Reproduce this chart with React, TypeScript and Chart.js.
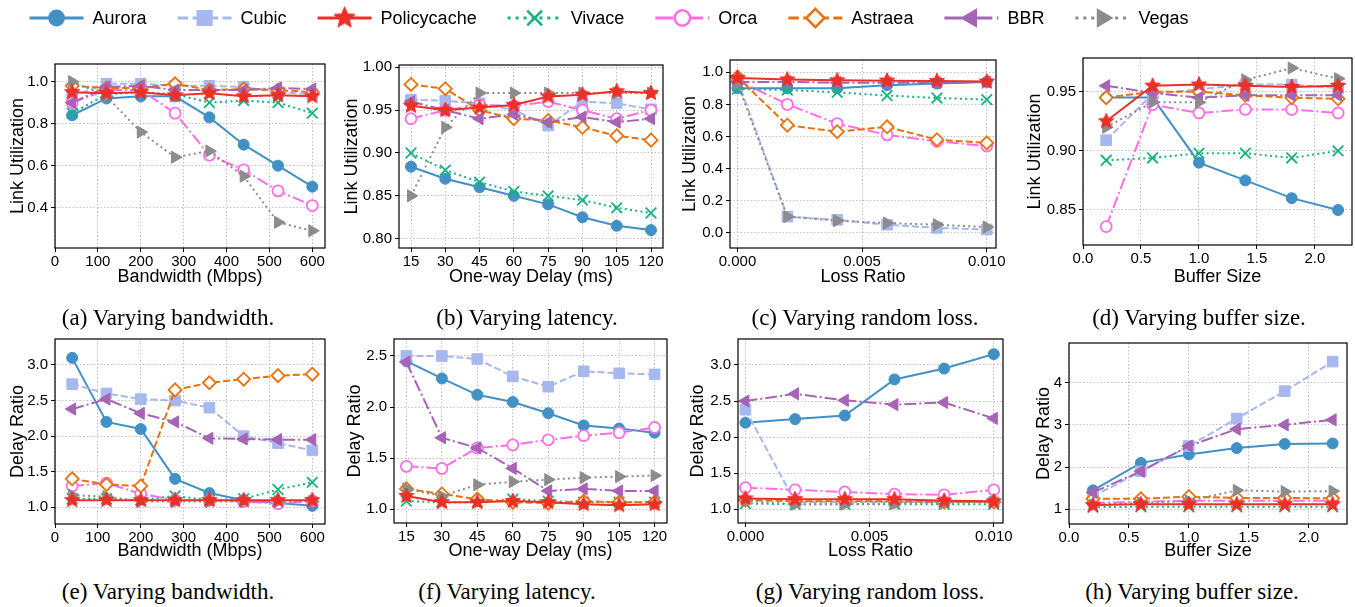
import React, { useEffect, useRef } from "react";
import { Chart, registerables } from "chart.js";
Chart.register(...registerables);

const SANS = "'Liberation Sans', Arial, sans-serif";
const SERIF = "'Liberation Serif', 'Times New Roman', serif";
Chart.defaults.font.family = SANS;
Chart.defaults.color = "#000";

// ---------------- data ----------------
const SERIES = ["Aurora", "Cubic", "Policycache", "Vivace", "Orca", "Astraea", "BBR", "Vegas"];

const bandwidthX = [40, 120, 200, 280, 360, 440, 520, 600];
const delayX = [15, 30, 45, 60, 75, 90, 105, 120];
const lossX = [0, 0.002, 0.004, 0.006, 0.008, 0.01];
const bufferX = [0.2, 0.6, 1.0, 1.4, 1.8, 2.2];

// rows: Aurora, Cubic, Policycache, Vivace, Orca, Astraea, BBR, Vegas
const utilBandwidth = [
  [0.84, 0.92, 0.93, 0.93, 0.83, 0.7, 0.6, 0.5],
  [0.93, 0.99, 0.99, 0.98, 0.98, 0.975, 0.95, 0.94],
  [0.95, 0.945, 0.95, 0.935, 0.945, 0.93, 0.935, 0.93],
  [0.85, 0.94, 0.95, 0.94, 0.9, 0.91, 0.9, 0.85],
  [0.9, 0.96, 0.96, 0.85, 0.65, 0.58, 0.48, 0.41],
  [0.98, 0.97, 0.97, 0.99, 0.96, 0.965, 0.96, 0.95],
  [0.9, 0.975, 0.98, 0.96, 0.96, 0.96, 0.97, 0.965],
  [1.0, 0.93, 0.76, 0.64, 0.67, 0.55, 0.33, 0.29],
];
const utilDelay = [
  [0.884, 0.87, 0.86, 0.85, 0.84, 0.825, 0.815, 0.81],
  [0.962, 0.961, 0.958, 0.95, 0.932, 0.96, 0.958, 0.951],
  [0.955, 0.95, 0.953, 0.956, 0.966, 0.968, 0.972, 0.97],
  [0.9, 0.88, 0.866, 0.855, 0.85, 0.845, 0.836, 0.83],
  [0.94, 0.95, 0.956, 0.955, 0.96, 0.95, 0.94, 0.95],
  [0.98, 0.975, 0.95, 0.94, 0.938, 0.93, 0.92, 0.915],
  [0.96, 0.95, 0.94, 0.945, 0.936, 0.942, 0.936, 0.94],
  [0.85, 0.93, 0.97, 0.97, 0.97, 0.97, 0.97, 0.97],
];
const utilLoss = [
  [0.9, 0.9, 0.9, 0.92, 0.93, 0.94],
  [0.95, 0.1, 0.08, 0.05, 0.03, 0.02],
  [0.965, 0.955, 0.95, 0.948, 0.945, 0.942],
  [0.895, 0.89, 0.875, 0.855, 0.84, 0.83],
  [0.95, 0.8, 0.68, 0.61, 0.57, 0.54],
  [0.97, 0.67, 0.63, 0.66, 0.58, 0.56],
  [0.94, 0.94, 0.935, 0.935, 0.935, 0.94],
  [0.93, 0.1, 0.075, 0.06, 0.05, 0.035],
];
const utilBuffer = [
  [0.945, 0.945, 0.89, 0.875, 0.86, 0.85],
  [0.909, 0.948, 0.952, 0.956, 0.956, 0.953],
  [0.925, 0.955, 0.956, 0.955, 0.954, 0.955],
  [0.892, 0.894, 0.898, 0.898, 0.894, 0.9],
  [0.836, 0.939, 0.932, 0.935, 0.935, 0.932],
  [0.945, 0.95, 0.95, 0.947, 0.945, 0.944],
  [0.955, 0.949, 0.945, 0.947, 0.947, 0.947],
  [0.92, 0.941, 0.941, 0.96, 0.97, 0.961],
];
const delayBandwidth = [
  [3.1, 2.2, 2.1, 1.4, 1.2, 1.1, 1.06, 1.02],
  [2.73, 2.6, 2.52, 2.5, 2.4, 2.0, 1.9, 1.8],
  [1.1, 1.1, 1.1, 1.1, 1.1, 1.1, 1.1, 1.1],
  [1.12, 1.12, 1.1, 1.16, 1.1, 1.12, 1.25, 1.35],
  [1.3, 1.34, 1.19, 1.1, 1.1, 1.08, 1.05, 1.09],
  [1.4, 1.32, 1.3, 2.65, 2.75, 2.8, 2.85, 2.87],
  [2.38, 2.52, 2.32, 2.2, 1.97, 1.96, 1.95, 1.95],
  [1.17, 1.15, 1.08, 1.08, 1.08, 1.08, 1.08, 1.08],
];
const delayDelay = [
  [2.45, 2.28, 2.12, 2.05, 1.94, 1.82, 1.79, 1.75],
  [2.5, 2.5, 2.47, 2.3, 2.2, 2.35, 2.33, 2.32],
  [1.13, 1.07, 1.07, 1.08, 1.07, 1.05, 1.04, 1.05],
  [1.08, 1.07, 1.07, 1.1, 1.08, 1.07, 1.07, 1.07],
  [1.42, 1.4, 1.6, 1.63, 1.68, 1.72, 1.75, 1.8],
  [1.2, 1.15, 1.1, 1.07, 1.06, 1.08, 1.07, 1.07],
  [2.44, 1.7, 1.6, 1.4, 1.18, 1.2, 1.18, 1.18],
  [1.2, 1.13, 1.24, 1.27, 1.29, 1.31, 1.32, 1.33],
];
const delayLoss = [
  [2.2, 2.25, 2.3, 2.8, 2.95, 3.15],
  [2.38, 1.1, 1.1, 1.1, 1.1, 1.1],
  [1.15, 1.14, 1.14, 1.14, 1.12, 1.11],
  [1.08, 1.07, 1.07, 1.07, 1.07, 1.07],
  [1.3, 1.27, 1.24, 1.21, 1.2, 1.27],
  [1.13, 1.11, 1.11, 1.11, 1.1, 1.1],
  [2.5, 2.6, 2.51, 2.45, 2.48, 2.26],
  [1.12, 1.07, 1.07, 1.08, 1.09, 1.1],
];
const delayBuffer = [
  [1.45, 2.1, 2.3, 2.45, 2.55, 2.56],
  [1.3, 1.9, 2.5, 3.15, 3.8, 4.5],
  [1.1, 1.12, 1.12, 1.12, 1.12, 1.12],
  [1.05, 1.06, 1.06, 1.06, 1.06, 1.06],
  [1.15, 1.18, 1.2, 1.2, 1.2, 1.2],
  [1.25, 1.25, 1.3, 1.27, 1.27, 1.26],
  [1.4, 1.9, 2.5, 2.9, 3.0, 3.12],
  [1.1, 1.15, 1.2, 1.45, 1.42, 1.43],
];

// tick values / labels
const bwTicks = [0, 100, 200, 300, 400, 500, 600];
const bwLabels = ["0", "100", "200", "300", "400", "500", "600"];
const delayTicks = [15, 30, 45, 60, 75, 90, 105, 120];
const delayLabels = ["15", "30", "45", "60", "75", "90", "105", "120"];
const lossTicks = [0, 0.005, 0.01];
const lossLabels = ["0.000", "0.005", "0.010"];
const bufTicks = [0, 0.5, 1.0, 1.5, 2.0];
const bufLabels = ["0.0", "0.5", "1.0", "1.5", "2.0"];

const yTicksA = [0.4, 0.6, 0.8, 1.0];
const yLabelsA = ["0.4", "0.6", "0.8", "1.0"];
const yTicksB = [0.8, 0.85, 0.9, 0.95, 1.0];
const yLabelsB = ["0.80", "0.85", "0.90", "0.95", "1.00"];
const yTicksC = [0, 0.2, 0.4, 0.6, 0.8, 1.0];
const yLabelsC = ["0.0", "0.2", "0.4", "0.6", "0.8", "1.0"];
const yTicksD = [0.85, 0.9, 0.95];
const yLabelsD = ["0.85", "0.90", "0.95"];
const yTicksE = [1.0, 1.5, 2.0, 2.5, 3.0];
const yLabelsE = ["1.0", "1.5", "2.0", "2.5", "3.0"];
const yTicksF = [1.0, 1.5, 2.0, 2.5];
const yLabelsF = ["1.0", "1.5", "2.0", "2.5"];
const yTicksH = [1, 2, 3, 4];
const yLabelsH = ["1", "2", "3", "4"];

// ---------------- styles ----------------
type Style = { color: string; dash: number[]; marker: string; hollow?: boolean; radius: number; rotation?: number };
const STYLES: Style[] = [
  { color: "#4190c6", dash: [], marker: "circle", radius: 5.5 },
  { color: "#a6b8ee", dash: [7, 3], marker: "rect", radius: 7.5 },
  { color: "#ec2f27", dash: [], marker: "star", radius: 8 },
  { color: "#16b27f", dash: [2, 3.3], marker: "crossRot", radius: 7.5 },
  { color: "#ff6ee8", dash: [12, 3, 2, 3], marker: "circle", hollow: true, radius: 5.5 },
  { color: "#e8730d", dash: [7, 3], marker: "rectRot", hollow: true, radius: 6.5 },
  { color: "#a763b6", dash: [12, 3, 2, 3], marker: "triangle", radius: 7, rotation: -90 },
  { color: "#8c8c8c", dash: [2, 3.3], marker: "triangle", radius: 7, rotation: 90 },
];

function makeStar(color: string, r: number): HTMLCanvasElement {
  const size = Math.ceil(2 * r + 4);
  const c = document.createElement("canvas");
  c.width = size;
  c.height = size;
  const ctx = c.getContext("2d")!;
  ctx.translate(size / 2, size / 2);
  ctx.beginPath();
  const inner = r * 0.45;
  for (let i = 0; i < 10; i++) {
    const rr = i % 2 === 0 ? r : inner;
    const a = -Math.PI / 2 + (i * Math.PI) / 5;
    const x = rr * Math.cos(a);
    const y = rr * Math.sin(a);
    if (i === 0) ctx.moveTo(x, y);
    else ctx.lineTo(x, y);
  }
  ctx.closePath();
  ctx.fillStyle = color;
  ctx.fill();
  ctx.lineWidth = 1;
  ctx.strokeStyle = color;
  ctx.stroke();
  return c;
}

function drawMarker(ctx: CanvasRenderingContext2D, st: Style, x: number, y: number, k: number) {
  const r = st.radius * k;
  ctx.save();
  ctx.translate(x, y);
  ctx.setLineDash([]);
  if (st.marker === "star") {
    const img = makeStar(st.color, r);
    ctx.drawImage(img, -img.width / 2, -img.height / 2);
    ctx.restore();
    return;
  }
  ctx.rotate(((st.rotation || 0) * Math.PI) / 180);
  ctx.lineWidth = (st.hollow || st.marker === "crossRot" ? 1.8 : 1) * k;
  ctx.strokeStyle = st.color;
  ctx.fillStyle = st.hollow ? "#ffffff" : st.color;
  ctx.beginPath();
  if (st.marker === "circle") ctx.arc(0, 0, r, 0, Math.PI * 2);
  else if (st.marker === "rect") {
    const h = r * Math.SQRT1_2;
    ctx.rect(-h, -h, 2 * h, 2 * h);
  } else if (st.marker === "rectRot") {
    ctx.moveTo(0, -r);
    ctx.lineTo(r, 0);
    ctx.lineTo(0, r);
    ctx.lineTo(-r, 0);
    ctx.closePath();
  } else if (st.marker === "triangle") {
    for (let i = 0; i < 3; i++) {
      const a = (i * 2 * Math.PI) / 3;
      const px = Math.sin(a) * r;
      const py = -Math.cos(a) * r;
      if (i === 0) ctx.moveTo(px, py);
      else ctx.lineTo(px, py);
    }
    ctx.closePath();
  } else if (st.marker === "crossRot") {
    const h = r * Math.SQRT1_2;
    ctx.moveTo(-h, -h);
    ctx.lineTo(h, h);
    ctx.moveTo(h, -h);
    ctx.lineTo(-h, h);
    ctx.stroke();
    ctx.restore();
    return;
  }
  ctx.fill();
  ctx.stroke();
  ctx.restore();
}

// ---------------- panels ----------------
type PanelSpec = {
  id: string;
  xs: number[];
  ys: number[][];
  xMin: number; xMax: number; yMin: number; yMax: number;
  xTicks: number[]; xLabels: string[];
  yTicks: number[]; yLabels: string[];
  xTitle: string; yTitle: string;
  L: number; R: number; T: number; B: number;
  yW: number; xH: number;
  caption: string; capX: number; capY: number;
};

const PANELS: PanelSpec[] = [
  { id: "a", xs: bandwidthX, ys: utilBandwidth, xMin: 0, xMax: 629.6, yMin: 0.208, yMax: 1.084,
    xTicks: bwTicks, xLabels: bwLabels, yTicks: yTicksA, yLabels: yLabelsA,
    xTitle: "Bandwidth (Mbps)", yTitle: "Link Utilization",
    L: 55, R: 325, T: 64, B: 248, yW: 48, xH: 40, caption: "(a) Varying bandwidth.", capX: 168, capY: 318 },
  { id: "b", xs: delayX, ys: utilDelay, xMin: 9.75, xMax: 125.25, yMin: 0.7891, yMax: 1.0027,
    xTicks: delayTicks, xLabels: delayLabels, yTicks: yTicksB, yLabels: yLabelsB,
    xTitle: "One-way Delay (ms)", yTitle: "Link Utilization",
    L: 399, R: 663, T: 65, B: 248, yW: 58, xH: 40, caption: "(b) Varying latency.", capX: 527, capY: 318 },
  { id: "c", xs: lossX, ys: utilLoss, xMin: -0.0003, xMax: 0.01037, yMin: -0.0954, yMax: 1.0767,
    xTicks: lossTicks, xLabels: lossLabels, yTicks: yTicksC, yLabels: yLabelsC,
    xTitle: "Loss Ratio", yTitle: "Link Utilization",
    L: 730, R: 996, T: 60, B: 248, yW: 51, xH: 40, caption: "(c) Varying random loss.", capX: 865, capY: 318 },
  { id: "d", xs: bufferX, ys: utilBuffer, xMin: 0, xMax: 2.32, yMin: 0.8204, yMax: 0.9785,
    xTicks: bufTicks, xLabels: bufLabels, yTicks: yTicksD, yLabels: yLabelsD,
    xTitle: "Buffer Size", yTitle: "Link Utilization",
    L: 1083, R: 1352, T: 58, B: 245, yW: 59, xH: 43, caption: "(d) Varying buffer size.", capX: 1199, capY: 318 },
  { id: "e", xs: bandwidthX, ys: delayBandwidth, xMin: 0, xMax: 629.6, yMin: 0.765, yMax: 3.365,
    xTicks: bwTicks, xLabels: bwLabels, yTicks: yTicksE, yLabels: yLabelsE,
    xTitle: "Bandwidth (Mbps)", yTitle: "Delay Ratio",
    L: 55, R: 325, T: 339, B: 524, yW: 48, xH: 38, caption: "(e) Varying bandwidth.", capX: 168, capY: 592 },
  { id: "f", xs: delayX, ys: delayDelay, xMin: 9.75, xMax: 125.25, yMin: 0.866, yMax: 2.666,
    xTicks: delayTicks, xLabels: delayLabels, yTicks: yTicksF, yLabels: yLabelsF,
    xTitle: "One-way Delay (ms)", yTitle: "Delay Ratio",
    L: 394, R: 667, T: 339, B: 523, yW: 50, xH: 39, caption: "(f) Varying latency.", capX: 507, capY: 592 },
  { id: "g", xs: lossX, ys: delayLoss, xMin: -0.0003, xMax: 0.01037, yMin: 0.81, yMax: 3.36,
    xTicks: lossTicks, xLabels: lossLabels, yTicks: yTicksE, yLabels: yLabelsE,
    xTitle: "Loss Ratio", yTitle: "Delay Ratio",
    L: 738, R: 1003, T: 339, B: 523, yW: 51, xH: 39, caption: "(g) Varying random loss.", capX: 870, capY: 592 },
  { id: "h", xs: bufferX, ys: delayBuffer, xMin: 0, xMax: 2.32, yMin: 0.652, yMax: 4.94,
    xTicks: bufTicks, xLabels: bufLabels, yTicks: yTicksH, yLabels: yLabelsH,
    xTitle: "Buffer Size", yTitle: "Delay Ratio",
    L: 1069, R: 1347, T: 343, B: 524, yW: 36, xH: 38, caption: "(h) Varying buffer size.", capX: 1192, capY: 592 },
];

const PAD_TOP = 12;
const PAD_RIGHT = 24;

const framePlugin = {
  id: "frame",
  afterDatasetsDraw(chart: any) {
    const { ctx, chartArea: a } = chart;
    ctx.save();
    ctx.strokeStyle = "#000";
    ctx.lineWidth = 1.2;
    ctx.setLineDash([]);
    ctx.strokeRect(a.left, a.top, a.right - a.left, a.bottom - a.top);
    ctx.restore();
  },
};

function Panel({ spec }: { spec: PanelSpec }) {
  const ref = useRef<HTMLCanvasElement>(null);
  const width = spec.yW + (spec.R - spec.L) + PAD_RIGHT;
  const height = PAD_TOP + (spec.B - spec.T) + spec.xH;
  useEffect(() => {
    const star = makeStar(STYLES[2].color, STYLES[2].radius);
    const datasets = spec.ys.map((vals, i) => {
      const st = STYLES[i];
      return {
        label: SERIES[i],
        data: spec.xs.map((x, j) => ({ x, y: vals[j] })),
        borderColor: st.color,
        backgroundColor: st.hollow ? "#ffffff" : st.color,
        borderWidth: 2,
        borderDash: st.dash,
        pointStyle: st.marker === "star" ? star : st.marker,
        pointRadius: st.radius,
        pointRotation: st.rotation || 0,
        pointBorderColor: st.color,
        pointBackgroundColor: st.hollow ? "#ffffff" : st.color,
        pointBorderWidth: st.hollow || st.marker === "crossRot" ? 1.8 : 1,
        tension: 0,
        fill: false,
        order: i === 2 ? 0 : 100 - i,
      };
    });
    const gridOpts = {
      color: "#b8b8b8",
      lineWidth: 0.9,
      drawTicks: true,
      tickLength: 4,
      tickColor: "#000",
      tickWidth: 1,
    };
    const chart = new Chart(ref.current!, {
      type: "line",
      data: { datasets } as any,
      plugins: [framePlugin],
      options: {
        responsive: false,
        animation: false,
        events: [],
        layout: { padding: { left: 0, top: PAD_TOP, right: PAD_RIGHT, bottom: 0 } },
        plugins: { legend: { display: false }, tooltip: { enabled: false } },
        scales: {
          x: {
            type: "linear",
            min: spec.xMin,
            max: spec.xMax,
            afterBuildTicks: (s: any) => {
              s.ticks = spec.xTicks.map((v) => ({ value: v }));
            },
            afterFit: (s: any) => {
              s.height = spec.xH;
              s.paddingLeft = 0;
              s.paddingRight = 0;
            },
            ticks: {
              callback: (_v: any, i: number) => spec.xLabels[i],
              font: { family: SANS, size: 15, lineHeight: 1 },
              color: "#000",
              maxRotation: 0,
              autoSkip: false,
              padding: 2,
            },
            grid: gridOpts,
            border: { display: false, dash: [1.5, 2] },
            title: { display: true, text: spec.xTitle, font: { family: SANS, size: 18 }, color: "#000", padding: 0 },
          },
          y: {
            type: "linear",
            min: spec.yMin,
            max: spec.yMax,
            afterBuildTicks: (s: any) => {
              s.ticks = spec.yTicks.map((v) => ({ value: v }));
            },
            afterFit: (s: any) => {
              s.width = spec.yW;
              s.paddingTop = 0;
              s.paddingBottom = 0;
            },
            ticks: {
              callback: (_v: any, i: number) => spec.yLabels[i],
              font: { family: SANS, size: 15 },
              color: "#000",
              autoSkip: false,
              padding: 3,
            },
            grid: gridOpts,
            border: { display: false, dash: [1.5, 2] },
            title: { display: true, text: spec.yTitle, font: { family: SANS, size: 18 }, color: "#000", padding: 0 },
          },
        },
      } as any,
    });
    return () => chart.destroy();
  }, [spec]);
  return (
    <canvas
      ref={ref}
      width={width}
      height={height}
      style={{ position: "absolute", left: spec.L - spec.yW, top: spec.T - PAD_TOP, width, height }}
    />
  );
}

function Legend() {
  const ref = useRef<HTMLCanvasElement>(null);
  useEffect(() => {
    const c = ref.current!;
    const ctx = c.getContext("2d")!;
    ctx.clearRect(0, 0, c.width, c.height);
    ctx.font = `18px ${SANS}`;
    const handle = 54;
    const pad = 9;
    const gap = 31;
    const widths = SERIES.map((s) => ctx.measureText(s).width);
    const total = widths.reduce((acc, w) => acc + handle + pad + w, 0) + gap * (SERIES.length - 1);
    let x = 609 - total / 2;
    const y = 18;
    SERIES.forEach((name, i) => {
      const st = STYLES[i];
      ctx.save();
      ctx.strokeStyle = st.color;
      ctx.lineWidth = 3;
      ctx.setLineDash(st.dash.map((d) => d * 1.5));
      ctx.beginPath();
      ctx.moveTo(x, y);
      ctx.lineTo(x + handle, y);
      ctx.stroke();
      ctx.restore();
      drawMarker(ctx, st, x + handle / 2, y, 1.4);
      ctx.fillStyle = "#000";
      ctx.textBaseline = "middle";
      ctx.fillText(name, x + handle + pad, y + 1);
      x += handle + pad + widths[i] + gap;
    });
  }, []);
  return <canvas ref={ref} width={1355} height={40} style={{ position: "absolute", left: 0, top: 0 }} />;
}

export default function App() {
  return (
    <div style={{ position: "absolute", left: 0, top: 0, width: 1355, height: 607, background: "#fff", overflow: "hidden" }}>
      <Legend />
      {PANELS.map((p) => (
        <Panel key={p.id} spec={p} />
      ))}
      {PANELS.map((p) => (
        <div
          key={"cap" + p.id}
          style={{
            position: "absolute",
            left: p.capX - 150,
            width: 300,
            top: p.capY - 12,
            textAlign: "center",
            fontFamily: SERIF,
            fontSize: 23,
            lineHeight: "23px",
            color: "#000",
            whiteSpace: "nowrap",
          }}
        >
          {p.caption}
        </div>
      ))}
    </div>
  );
}
